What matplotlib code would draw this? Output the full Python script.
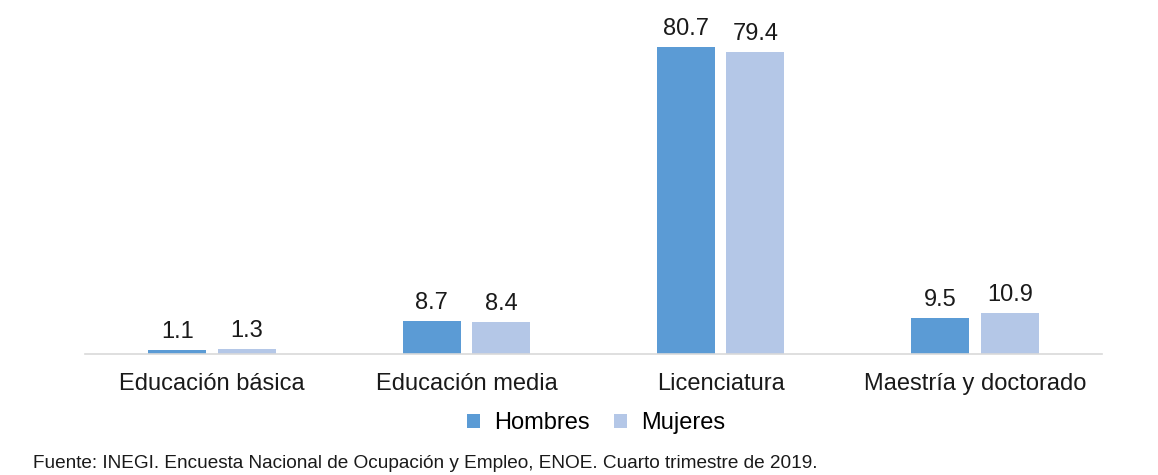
import matplotlib.pyplot as plt
import numpy as np

plt.rcParams['font.family'] = ['Liberation Sans', 'DejaVu Sans']

categorias = ["Educación básica", "Educación media", "Licenciatura", "Maestría y doctorado"]
hombres = [1.1, 8.7, 80.7, 9.5]
mujeres = [1.3, 8.4, 79.4, 10.9]

COLOR_H = "#5B9BD5"
COLOR_M = "#B4C7E7"

W, H = 1158, 475
fig = plt.figure(figsize=(W / 100, H / 100), dpi=100)
base_y = 354
top_y = base_y - 90 * 3.8
ax = fig.add_axes([85 / W, (H - base_y) / H, (1102 - 85) / W, (base_y - top_y) / H])

x = np.arange(len(categorias))
ancho = 0.228
off = 0.137
b1 = ax.bar(x - off, hombres, ancho, color=COLOR_H, label="Hombres")
b2 = ax.bar(x + off, mujeres, ancho, color=COLOR_M, label="Mujeres")

for barras in (b1, b2):
    for b in barras:
        ax.annotate(f"{b.get_height():.1f}", (b.get_x() + b.get_width() / 2, b.get_height()),
                    xytext=(0, 5), textcoords="offset points", ha="center", va="bottom",
                    fontsize=17, color="#1a1a1a")

ax.set_xlim(-0.5, len(categorias) - 0.5)
ax.set_ylim(0, 90)
ax.set_xticks(x)
ax.set_xticklabels(categorias, fontsize=17, color="#1a1a1a")
ax.tick_params(axis="x", length=0, pad=14)
ax.set_yticks([])
for s in ("top", "left", "right"):
    ax.spines[s].set_visible(False)
ax.spines["bottom"].set_color("#D9D9D9")
ax.spines["bottom"].set_linewidth(1.2)

fig.legend(handles=[b1, b2], loc="center", bbox_to_anchor=(596 / W, 1 - 423 / H),
           ncol=2, frameon=False, fontsize=17, handlelength=0.55, handleheight=0.55,
           columnspacing=1.0, handletextpad=0.6)

fig.text(33 / W, 1 - 463 / H,
         "Fuente: INEGI. Encuesta Nacional de Ocupación y Empleo, ENOE. Cuarto trimestre de 2019.",
         fontsize=13.7, color="#1a1a1a", va="center", ha="left")

fig.savefig("out.png", dpi=100, facecolor="white")
